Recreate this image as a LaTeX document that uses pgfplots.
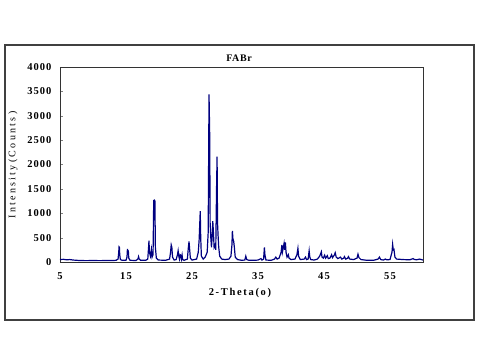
\documentclass[border=0pt]{standalone}
\usepackage{pgfplots}
\pgfplotsset{compat=1.18}
\usepackage{fontspec}
\setmainfont{Liberation Serif}
\newfontfamily\tickfont[LetterSpace=10]{Liberation Serif}
\newfontfamily\ylabfont[LetterSpace=23]{Liberation Serif}
\newfontfamily\xlabfont[LetterSpace=16]{Liberation Serif}
\newfontfamily\titfont[LetterSpace=6]{Liberation Serif}
\definecolor{xrd}{RGB}{0,0,128}
\begin{document}
\begin{tikzpicture}
\path[use as bounding box] (0pt,0pt) rectangle (480pt,-358pt);
\draw[line width=1.2pt, draw=black!75] (5pt,-45pt) rectangle (474pt,-320pt);
\begin{axis}[at={(60pt,-262pt)}, anchor=south west, scale only axis,
  width=363pt, height=195pt,
  xmin=5, xmax=60, ymin=0, ymax=4000,
  xtick={5,15,25,35,45,55}, ytick={0,500,...,4000},
  tick align=inside, ytick pos=left, major tick length=3pt,
  x tick style={draw=none},
  axis line style={draw=black!80, line width=0.9pt},
  /pgf/number format/assume math mode=true,
  scaled y ticks=false,
  /pgf/number format/set thousands separator={},
  ticklabel style={font=\fontsize{10.5}{12}\selectfont\tickfont\bfseries},
  yticklabel style={xshift=-5pt},
  xticklabel style={yshift=-7pt},
]
\addplot[color=xrd, line width=1.2pt] coordinates {
(5.0,50) (5.5,55) (6.0,45) (6.5,50) (7.0,40) (8,30) (9,28) (10,30) (11,28) (12,30) (13,30)
(13.5,35) (13.8,60) (13.9,200) (13.95,310) (14.0,300) (14.05,150) (14.15,50) (14.4,35)
(15.0,35) (15.15,100) (15.22,270) (15.28,150) (15.35,240) (15.42,80) (15.6,35)
(16.5,30) (16.8,60) (16.9,110) (17.0,60) (17.2,35) (18.0,35) (18.3,60) (18.42,300) (18.48,440)
(18.55,200) (18.7,120) (18.85,260) (18.95,100) (19.1,150) (19.2,1260) (19.3,1270) (19.38,1250)
(19.45,300) (19.6,80) (19.9,40) (21.0,35) (21.6,60) (21.75,200) (21.85,350) (21.95,300)
(22.05,100) (22.3,40) (22.6,50) (22.8,150) (22.9,230) (23.0,120) (23.1,60) (23.2,150)
(23.3,140) (23.4,60) (23.5,140) (23.58,50) (23.8,35) (24.3,60) (24.45,300) (24.55,420)
(24.62,300) (24.75,80) (25.0,40) (25.7,60) (25.95,200) (26.08,450) (26.18,800) (26.25,1045)
(26.32,500) (26.42,120) (26.7,60) (27.0,100) (27.3,200) (27.45,600) (27.5,1620) (27.58,3440)
(27.68,2620) (27.75,800) (27.85,500) (27.95,300) (28.05,500) (28.15,840) (28.25,600)
(28.35,300) (28.5,350) (28.6,250) (28.72,1500) (28.8,2160) (28.87,800) (28.95,550)
(29.05,300) (29.2,120) (29.5,60) (30.0,50) (30.6,60) (30.9,120) (31.05,350) (31.12,640)
(31.2,480) (31.32,420) (31.42,300) (31.55,100) (31.9,50) (32.5,35) (33.0,40) (33.15,120)
(33.3,50) (33.6,35) (34.5,35) (35.0,40) (35.3,60) (35.45,70) (35.6,40) (35.85,60) (35.97,300)
(36.05,150) (36.2,40) (37.0,35) (37.5,60) (37.7,100) (37.9,60) (38.2,80) (38.5,200)
(38.62,350) (38.7,200) (38.82,280) (38.95,380) (39.05,250) (39.15,400) (39.25,200)
(39.4,100) (39.6,150) (39.7,80) (40.0,50) (40.6,60) (40.9,150) (41.05,280) (41.15,120)
(41.4,50) (42.0,60) (42.2,100) (42.35,50) (42.6,60) (42.75,230) (42.85,100) (43.0,50)
(43.5,40) (44.0,60) (44.35,120) (44.6,210) (44.7,100) (44.9,80) (45.1,140) (45.25,80)
(45.5,130) (45.65,70) (45.9,80) (46.15,150) (46.3,90) (46.6,150) (46.7,190) (46.85,100)
(47.1,70) (47.5,100) (47.7,60) (48.0,80) (48.1,110) (48.3,60) (48.6,80) (48.7,110) (48.9,60)
(49.5,50) (50.0,80) (50.15,160) (50.3,90) (50.6,50) (51.5,35) (52.5,35) (53.2,60) (53.4,100)
(53.6,50) (54.0,40) (54.3,60) (54.5,45) (55.0,50) (55.3,200) (55.4,360) (55.5,250) (55.6,260)
(55.75,100) (56.0,60) (57.0,50) (58.0,45) (58.5,70) (58.65,55) (59.0,45) (59.5,60) (60.0,40)
};
\end{axis}
\node[font=\fontsize{10}{12}\selectfont\titfont\bfseries] at (239pt,-58pt) {FABr};
\node[font=\fontsize{10.5}{12}\selectfont\xlabfont\bfseries] at (240pt,-293pt) {2-Theta(o)};
\node[font=\fontsize{10}{12}\selectfont\ylabfont, rotate=90] at (13pt,-165pt) {Intensity(Counts)};
\end{tikzpicture}
\end{document}
